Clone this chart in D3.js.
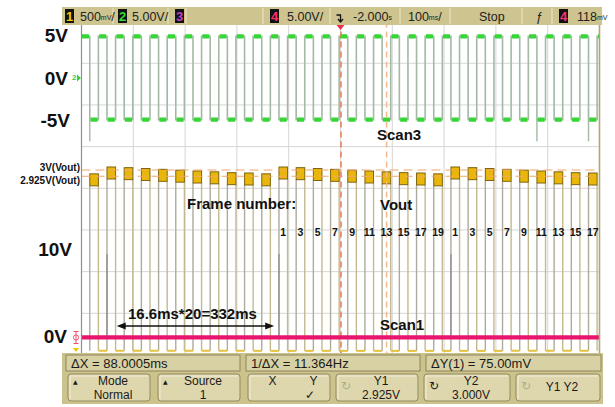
<!DOCTYPE html>
<html><head><meta charset="utf-8">
<script src="https://cdn.jsdelivr.net/npm/d3@7"></script>
<style>
html,body{margin:0;padding:0;background:#fff;}
svg{display:block;}
</style></head>
<body>
<svg id="chart" width="615" height="407"></svg>
<script>
// ---- timebase: 100 ms/div, trigger at screen centre ----
const timeDomainMs = [-500, 500];
const framePeriodMs = 16.6;
const firstFrameStartMs = -500.6;
// frame number written during each Vout (odd) frame, left to right
const voutFrames = [19, 1, 3, 5, 7, 9, 11, 13, 15, 17, 19, 1, 3, 5, 7, 9, 11, 13, 15, 17, 19, 1, 3, 5, 7, 9, 11, 13, 15, 17];
const labelledFrom = 11;
// Vout plateau (V) for each frame number
const frameNumbers = [1, 3, 5, 7, 9, 11, 13, 15, 17, 19];
const voutLevels = [3.000, 2.992, 2.982, 2.972, 2.962, 2.952, 2.942, 2.932, 2.928, 2.918];
const voutLowV = 0.83;
// Scan3 (ch2) levels and glitches
const scan3HighV = 5, scan3LowV = -5;
const scan3GlitchAt = [0, 26, 29];      // Vout frame index where the glitch sits
const scan3GlitchV = -7.6;
// Scan1 (ch4) pulses
const scan1PulseAt = [1, 11, 21];
const scan1PulseV = 10;
// cursors
const cursorXms = [1, 89];
const cursorYv = [3.000, 2.925];

// header and softkey texts
const headerItems = [
  {box: "1", boxColor: "#f2d000", x: 65},
  {text: "500", unit: "mV", tail: "/", x: 80},
  {box: "2", boxColor: "#33dd33", x: 118},
  {text: "5.00V/", x: 132},
  {box: "3", boxColor: "#c040c0", x: 175},
  {box: "4", boxColor: "#ff3070", x: 270},
  {text: "5.00V/", x: 287},
  {text: "-2.000", unit: "s", tail: "", x: 353},
  {text: "100", unit: "ms", tail: "/", x: 408},
  {text: "Stop", x: 479},
  {text: "\u0192", x: 536},
  {box: "4", boxColor: "#ff3070", x: 559},
  {text: "118", unit: "mV", tail: "", x: 577}
];
const headerSeps = [113, 168, 186, 263, 330, 400, 450, 522, 552];
const readouts = ["\u0394X = 88.0005ms", "1/\u0394X = 11.364Hz", "\u0394Y(1) = 75.00mV"];
const softkeys = [
  {top: "Mode", bottom: "Normal", icon: "\u25B2"},
  {top: "Source", bottom: "1", icon: "\u25B2"},
  {top: "X          Y", bottom: "          \u2713", icon: ""},
  {top: "Y1", bottom: "2.925V", icon: "\u21BB", faint: true},
  {top: "Y2", bottom: "3.000V", icon: "\u21BB"},
  {top: "Y1 Y2", bottom: "", icon: "\u21BB", faint: true}
];

const svg = d3.select("#chart");
const scr = {left: 81.5, right: 599.5, top: 21.6, bottom: 355};
const divH = (scr.bottom - scr.top) / 8;

const x = d3.scaleLinear().domain(timeDomainMs).range([scr.left, scr.right]);
const yScan3 = d3.scaleLinear().domain([0, 5]).range([78, 78 - divH]);       // 5 V/div
const yScan1 = d3.scaleLinear().domain([0, 5]).range([337.3, 337.3 - divH]); // 5 V/div
const yVout = d3.scaleLinear().domain([3.0, 2.5]).range([170, 170 + divH]);  // 500 mV/div

svg.append("defs").append("clipPath").attr("id", "scr")
  .append("rect").attr("x", scr.left).attr("y", scr.top)
  .attr("width", scr.right - scr.left).attr("height", scr.bottom - scr.top);

// ---- graticule ----
const grid = svg.append("g");
grid.selectAll("line.v").data(d3.range(timeDomainMs[0], timeDomainMs[1] + 1, 100)).join("line")
  .attr("x1", d => x(d)).attr("x2", d => x(d))
  .attr("y1", scr.top).attr("y2", scr.bottom)
  .attr("stroke", "#d6d6d6").attr("stroke-width", 1);
grid.selectAll("line.h").data(d3.range(0, 9)).join("line")
  .attr("x1", scr.left).attr("x2", scr.right)
  .attr("y1", d => scr.top + d * divH).attr("y2", d => scr.top + d * divH)
  .attr("stroke", "#d6d6d6").attr("stroke-width", 1);

const plot = svg.append("g").attr("clip-path", "url(#scr)");
const frameStart = j => firstFrameStartMs + j * framePeriodMs;
const levelOf = f => voutLevels[frameNumbers.indexOf(f)];

// ---- Vout (ch1): edges falling to the low level ----
const vout = voutFrames.map((f, k) => {
  const j = 2 * k + 1;
  return {f, k, t0: frameStart(j), t1: frameStart(j + 1), v: levelOf(f)};
});
const edges = plot.append("g");
vout.forEach(d => {
  [d.t0, d.t1].forEach((t, i) => {
    edges.append("line")
      .attr("x1", x(t)).attr("x2", x(t))
      .attr("y1", yVout(d.v) + 9).attr("y2", yVout(voutLowV))
      .attr("stroke", i ? "#c4b98e" : "#aeab9c").attr("stroke-width", 1.4);
  });
});
// low level between plateaus
plot.append("g").selectAll("line").data(vout.slice(0, -1)).join("line")
  .attr("x1", d => x(d.t1)).attr("x2", (d, i) => x(vout[i + 1].t0))
  .attr("y1", yVout(voutLowV)).attr("y2", yVout(voutLowV))
  .attr("stroke", "#e6c23a").attr("stroke-width", 2);

// ---- Scan1 pulses (thin, fast) ----
plot.append("g").selectAll("line").data(scan1PulseAt).join("line")
  .attr("x1", k => x(vout[k].t0)).attr("x2", k => x(vout[k].t0))
  .attr("y1", yScan1(0)).attr("y2", yScan1(scan1PulseV))
  .attr("stroke", "#8e8e8e").attr("stroke-width", 1.3);

// ---- Scan3 (ch2) square wave ----
const nFrames = 2 * voutFrames.length + 1;
const s3 = d3.range(nFrames).map(j => ({t0: frameStart(j), t1: frameStart(j + 1), v: j % 2 ? scan3LowV : scan3HighV}));
const s3pts = [];
s3.forEach(d => { s3pts.push([x(d.t0), yScan3(d.v)]); s3pts.push([x(d.t1), yScan3(d.v)]); });
plot.append("path").attr("d", d3.line()(s3pts))
  .attr("fill", "none").attr("stroke", "#a4b9a4").attr("stroke-width", 1.6);
plot.append("g").selectAll("line").data(scan3GlitchAt).join("line")
  .attr("x1", k => x(vout[k].t0)).attr("x2", k => x(vout[k].t0))
  .attr("y1", yScan3(scan3LowV)).attr("y2", yScan3(scan3GlitchV))
  .attr("stroke", "#a4b9a4").attr("stroke-width", 1.4);
plot.append("g").selectAll("line").data(s3).join("line")
  .attr("x1", d => x(d.t0) + 0.8).attr("x2", d => x(d.t1) - 0.8)
  .attr("y1", d => yScan3(d.v)).attr("y2", d => yScan3(d.v))
  .attr("stroke", "#36d636").attr("stroke-width", 4.2);

// ---- Vout plateaus ----
plot.append("g").selectAll("rect").data(vout).join("rect")
  .attr("x", d => x(d.t0)).attr("width", d => x(d.t1) - x(d.t0))
  .attr("y", d => yVout(d.v) - 3).attr("height", 12)
  .attr("fill", "#e8b70a").attr("stroke", "#7e6410").attr("stroke-width", 1);

// ---- cursors ----
plot.append("g").selectAll("line").data(cursorYv).join("line")
  .attr("x1", scr.left).attr("x2", scr.right)
  .attr("y1", d => yVout(d)).attr("y2", d => yVout(d))
  .attr("stroke", "#f2a66a").attr("stroke-width", 1.2).attr("stroke-dasharray", "9,5");
plot.append("g").selectAll("line").data(cursorXms).join("line")
  .attr("x1", d => x(d)).attr("x2", d => x(d))
  .attr("y1", scr.top).attr("y2", scr.bottom)
  .attr("stroke", (d, i) => i ? "#f4b88c" : "#f07a4e")
  .attr("stroke-width", 1.5).attr("stroke-dasharray", "6,4");

// ---- Scan1 (ch4) baseline ----
plot.append("line")
  .attr("x1", scr.left).attr("x2", scr.right)
  .attr("y1", yScan1(0)).attr("y2", yScan1(0))
  .attr("stroke", "#e8146e").attr("stroke-width", 4.2);

// screen border
svg.append("line").attr("x1", scr.left).attr("x2", scr.left).attr("y1", scr.top).attr("y2", scr.bottom)
  .attr("stroke", "#8f8f8f").attr("stroke-width", 1.2);
svg.append("line").attr("x1", scr.right).attr("x2", scr.right).attr("y1", scr.top).attr("y2", scr.bottom)
  .attr("stroke", "#b3a576").attr("stroke-width", 1.6);

// ---- annotations ----
const bold = "'Liberation Sans', Arial, sans-serif";
function label(txt, px, py, size, anchor, color) {
  return svg.append("text").attr("x", px).attr("y", py).text(txt)
    .attr("font-family", bold).attr("font-weight", "bold").attr("font-size", size)
    .attr("text-anchor", anchor || "start").attr("fill", color || "#111");
}
label("5V", 68, 42, 19, "end");
label("0V", 68, 85, 19, "end");
label("-5V", 70, 127, 19, "end");
label("3V(Vout)", 80, 171, 10, "end");
label("2.925V(Vout)", 80, 183.5, 10, "end");
label("10V", 72, 256, 19, "end");
label("0V", 67, 343, 19, "end");
label("Scan3", 377, 140, 15);
label("Frame number:", 187, 209, 15);
label("Vout", 380, 210, 15);
label("Scan1", 380, 330, 15);
label("16.6ms*20=332ms", 128, 319, 15);

svg.append("g").selectAll("text").data(vout.filter(d => d.k >= labelledFrom)).join("text")
  .attr("x", d => x((d.t0 + d.t1) / 2)).attr("y", 236)
  .attr("text-anchor", "middle").attr("font-family", bold).attr("font-weight", "bold")
  .attr("font-size", 10.5).attr("fill", "#111").text(d => d.f);

// measurement arrow
const arrowMs = [-432, -128];
const ay = 326;
svg.append("line").attr("x1", x(arrowMs[0]) + 6).attr("x2", x(arrowMs[1]) - 6)
  .attr("y1", ay).attr("y2", ay).attr("stroke", "#111").attr("stroke-width", 1.5);
svg.append("path").attr("fill", "#111")
  .attr("d", `M${x(arrowMs[0])},${ay} l9,-3.5 v7 z M${x(arrowMs[1])},${ay} l-9,-3.5 v7 z`);

// channel ground markers
const g2 = svg.append("g");
g2.append("text").attr("x", 72).attr("y", 80).text("2").attr("font-family", bold)
  .attr("font-size", 8).attr("font-weight", "bold").attr("fill", "#3ccf3c");
g2.append("path").attr("d", "M77,74.5 l4,3.5 l-4,3.5 z").attr("fill", "#3ccf3c");
const g4 = svg.append("g").attr("stroke", "#f05070").attr("fill", "none").attr("stroke-width", 1);
g4.append("circle").attr("cx", 76).attr("cy", 337.5).attr("r", 2.6);
g4.append("path").attr("d", "M76,331 v13 M73.5,331.5 h5 M73.5,343.5 h5");
svg.append("path").attr("d", "M73,348 h6 l-3,4 z").attr("fill", "#f2c400");

// ---- header bar ----
const narrow = "'Liberation Sans Narrow', 'Arial Narrow', 'Liberation Sans', sans-serif";
const hdr = svg.append("g");
hdr.append("rect").attr("x", 62).attr("y", 7).attr("width", 540).attr("height", 18).attr("fill", "#cdc48f");
hdr.selectAll("line").data(headerSeps).join("line")
  .attr("x1", d => d).attr("x2", d => d).attr("y1", 8).attr("y2", 24)
  .attr("stroke", "#ede7c6").attr("stroke-width", 1);
headerItems.forEach(d => {
  if (d.box) {
    hdr.append("rect").attr("x", d.x).attr("y", 9).attr("width", 9).attr("height", 14).attr("fill", "#111");
    hdr.append("text").attr("x", d.x + 4.5).attr("y", 21).attr("text-anchor", "middle").text(d.box)
      .attr("font-family", narrow).attr("font-weight", "bold").attr("font-size", 13).attr("fill", d.boxColor);
  } else {
    const t = hdr.append("text").attr("x", d.x).attr("y", 21)
      .attr("font-family", narrow).attr("font-size", 12.5).attr("fill", "#222");
    t.append("tspan").text(d.text);
    if (d.unit) {
      t.append("tspan").text(d.unit).attr("font-size", 7).attr("dy", -1);
      if (d.tail) t.append("tspan").text(d.tail).attr("dy", 1);
    }
  }
});
// trigger point marker
hdr.append("path").attr("d", `M${x(0) - 4},15 h4 v7 M${x(0) - 2.5},19 l2.5,3 l2.5,-3`)
  .attr("stroke", "#111").attr("fill", "none").attr("stroke-width", 1.3);
svg.append("path").attr("d", `M${x(0) - 4},25 h8 l-4,5 z`).attr("fill", "#f0304a");

// ---- softkey panel ----
const pnl = svg.append("g");
pnl.append("rect").attr("x", 62).attr("y", 353).attr("width", 541).attr("height", 51).attr("fill", "#cbc28c");
const boxes = [[66, 240], [246, 420], [426, 601]];
boxes.forEach((b, i) => {
  pnl.append("rect").attr("x", b[0]).attr("y", 355).attr("width", b[1] - b[0]).attr("height", 16)
    .attr("fill", "#d8d1a4").attr("stroke", "#8e865c").attr("stroke-width", 1);
  pnl.append("text").attr("x", b[0] + 5).attr("y", 368).text(readouts[i])
    .attr("font-family", narrow).attr("font-size", 13).attr("fill", "#1a1a1a");
});
const keys = [[68, 150], [158, 240], [248, 330], [336, 418], [424, 510], [516, 600]];
keys.forEach((k, i) => {
  const s = softkeys[i], cx = (k[0] + k[1]) / 2;
  pnl.append("rect").attr("x", k[0]).attr("y", 374).attr("width", k[1] - k[0]).attr("height", 27).attr("rx", 3)
    .attr("fill", "#ded7ae").attr("stroke", "#948b5e").attr("stroke-width", 1);
  pnl.append("path").attr("d", `M${k[0] + 2},399 V376 H${k[1] - 2}`).attr("stroke", "#f3eed6").attr("fill", "none");
  const two = s.bottom !== "";
  pnl.append("text").attr("x", cx + 4).attr("y", two ? 385 : 391).attr("text-anchor", "middle").text(s.top)
    .attr("font-family", narrow).attr("font-size", 12).attr("fill", "#1a1a1a").style("white-space", "pre");
  if (two) pnl.append("text").attr("x", cx + 4).attr("y", 398.5).attr("text-anchor", "middle").text(s.bottom)
    .attr("font-family", narrow).attr("font-size", 12).attr("fill", "#1a1a1a").style("white-space", "pre");
  if (s.icon) pnl.append("text").attr("x", k[0] + 5).attr("y", s.icon === "\u25B2" ? 384 : 390).text(s.icon)
    .attr("font-family", "'DejaVu Sans', sans-serif").attr("font-size", s.icon === "\u25B2" ? 6 : 12)
    .attr("fill", s.faint ? "#a8b088" : "#1a1a1a");
});
</script>
</body></html>
